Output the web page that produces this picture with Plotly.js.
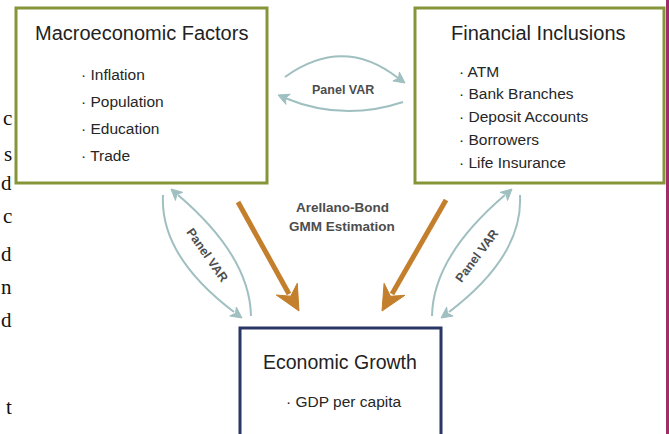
<!DOCTYPE html>
<html>
<head>
<meta charset="utf-8">
<script src="https://cdn.plot.ly/plotly-3.0.1.min.js"></script>
<style>html,body{margin:0;padding:0;background:#fff;}#chart{width:669px;height:434px;}</style>
</head>
<body>
<div id="chart"></div>
<script>
// ---- content ----
const boxTitles = ["Macroeconomic Factors", "Financial Inclusions", "Economic Growth"];
const macroItems = ["Inflation", "Population", "Education", "Trade"];
const financialItems = ["ATM", "Bank Branches", "Deposit Accounts", "Borrowers", "Life Insurance"];
const growthItems = ["GDP per capita"];
const linkLabels = ["Panel VAR", "Arellano-Bond", "GMM Estimation"];
const edgeLetters = ["c", "s", "d", "c", "d", "n", "d", "t"];

// ---- layout helpers ----
const SANS = "Liberation Sans, Arial, sans-serif";
const OLIVE = "#87953a", NAVY = "#2a3766", TEAL = "#9fbfc0", ORANGE = "#c37f2c";

function head(tx, ty, fx, fy, len, hw, notch) {
  // arrowhead with tip (tx,ty), pointing away from (fx,fy)
  const dx = tx - fx, dy = ty - fy, L = Math.hypot(dx, dy);
  const ux = dx / L, uy = dy / L, px = -uy, py = ux;
  const bx = tx - ux * len, by = ty - uy * len;
  const nx = tx - ux * (len - notch), ny = ty - uy * (len - notch);
  return `M ${tx} ${ty} L ${bx + px * hw} ${by + py * hw} L ${nx} ${ny} L ${bx - px * hw} ${by - py * hw} Z`;
}

const shapes = [];
const ann = [];
function rect(x0, y0, x1, y1, color, w) {
  shapes.push({type: "rect", xref: "x", yref: "y", x0, y0, x1, y1,
    line: {color, width: w}, fillcolor: "rgba(255,255,255,0)", layer: "below"});
}
function curve(d, color, w) {
  shapes.push({type: "path", xref: "x", yref: "y", path: d, line: {color, width: w}});
}
function fillPath(d, color) {
  shapes.push({type: "path", xref: "x", yref: "y", path: d, fillcolor: color, line: {color, width: 1}});
}
function text(t, x, y, opts) {
  ann.push(Object.assign({text: t, x, y, xref: "x", yref: "y", showarrow: false,
    xanchor: "center", yanchor: "middle",
    font: {family: SANS, size: 15.5, color: "#262626"}}, opts || {}));
}

// magenta strip at right edge
shapes.push({type: "rect", xref: "x", yref: "y", x0: 666, x1: 672, y0: -5, y1: 440,
  fillcolor: "#9c2f6b", line: {width: 0}});

// boxes
rect(16, 8, 267, 183, OLIVE, 3);
rect(415, 8, 664, 183, OLIVE, 3);
rect(240, 328, 441, 445, NAVY, 3);

// box titles
const TITLE = {family: SANS, size: 20, color: "#222"};
text(boxTitles[0], 141, 33, {font: TITLE});
text(boxTitles[1], 538, 33, {font: TITLE});
text(boxTitles[2], 340, 362, {font: Object.assign({}, TITLE, {size: 19.5})});

// items
const macroY = [74, 101, 128, 155];
macroItems.forEach((s, i) => text("· " + s, 79, macroY[i], {xanchor: "left"}));
const finY = [71, 93, 116, 139, 162];
financialItems.forEach((s, i) => text("· " + s, 457, finY[i], {xanchor: "left"}));
growthItems.forEach((s, i) => text("· " + s, 284, 401 + i * 24, {xanchor: "left"}));

// link labels
const LBL = {family: SANS, size: 12.5, color: "#4d4d4d"};
const LBL2 = {family: SANS, size: 13.5, color: "#4d4d4d"};
text("<b>" + linkLabels[0] + "</b>", 343, 90, {font: LBL});
text("<b>" + linkLabels[1] + "</b>", 342, 207, {font: LBL2});
text("<b>" + linkLabels[2] + "</b>", 342, 226, {font: LBL2});
text("<b>" + linkLabels[0] + "</b>", 207, 255, {font: LBL, textangle: 55});
text("<b>" + linkLabels[0] + "</b>", 477, 256, {font: LBL, textangle: -53});

// top Panel VAR arcs
curve("M 285 77 Q 343 35 398 78", TEAL, 2);
fillPath(head(405, 83, 390, 72, 11, 5.5, 3), TEAL);
curve("M 403 102 Q 343 122 285 98", TEAL, 2);
fillPath(head(278, 95, 292, 101, 11, 5.5, 3), TEAL);

// left Panel VAR pair
curve("M 163 195 C 160 250 205 290 234 312", TEAL, 2);
fillPath(head(242, 318, 231, 310, 11, 5.5, 3), TEAL);
curve("M 178 195 C 205 218 250 262 251 316", TEAL, 2);
fillPath(head(171, 189, 182, 199, 11, 5.5, 3), TEAL);

// right Panel VAR pair
curve("M 520 195 C 523 250 478 290 449 312", TEAL, 2);
fillPath(head(441, 318, 452, 310, 11, 5.5, 3), TEAL);
curve("M 505 195 C 478 218 433 262 432 316", TEAL, 2);
fillPath(head(512, 189, 501, 199, 11, 5.5, 3), TEAL);

// orange estimation arrows
curve("M 238 202 L 289 294", ORANGE, 5);
fillPath(head(299, 311, 238, 202, 25, 12, 8), ORANGE);
curve("M 446 200 L 392 294", ORANGE, 5);
fillPath(head(382, 311, 446, 200, 25, 12, 8), ORANGE);

// cut-off serif text at left edge
const edgeY = [118, 154, 183, 216, 254, 287, 320, 407];
edgeLetters.forEach((s, i) => text(s, 14, edgeY[i], {xanchor: "right",
  font: {family: "Liberation Serif, Times New Roman, serif", size: 21, color: "#111"}}));

const layout = {
  width: 669, height: 434,
  margin: {l: 0, r: 0, t: 0, b: 0},
  paper_bgcolor: "#ffffff", plot_bgcolor: "#ffffff",
  xaxis: {range: [0, 669], visible: false, fixedrange: true},
  yaxis: {range: [434, 0], visible: false, fixedrange: true},
  showlegend: false,
  shapes, annotations: ann
};
Plotly.newPlot("chart", [{x: [], y: [], type: "scatter", mode: "markers", hoverinfo: "skip"}], layout,
  {displayModeBar: false, staticPlot: true});
</script>
</body>
</html>
